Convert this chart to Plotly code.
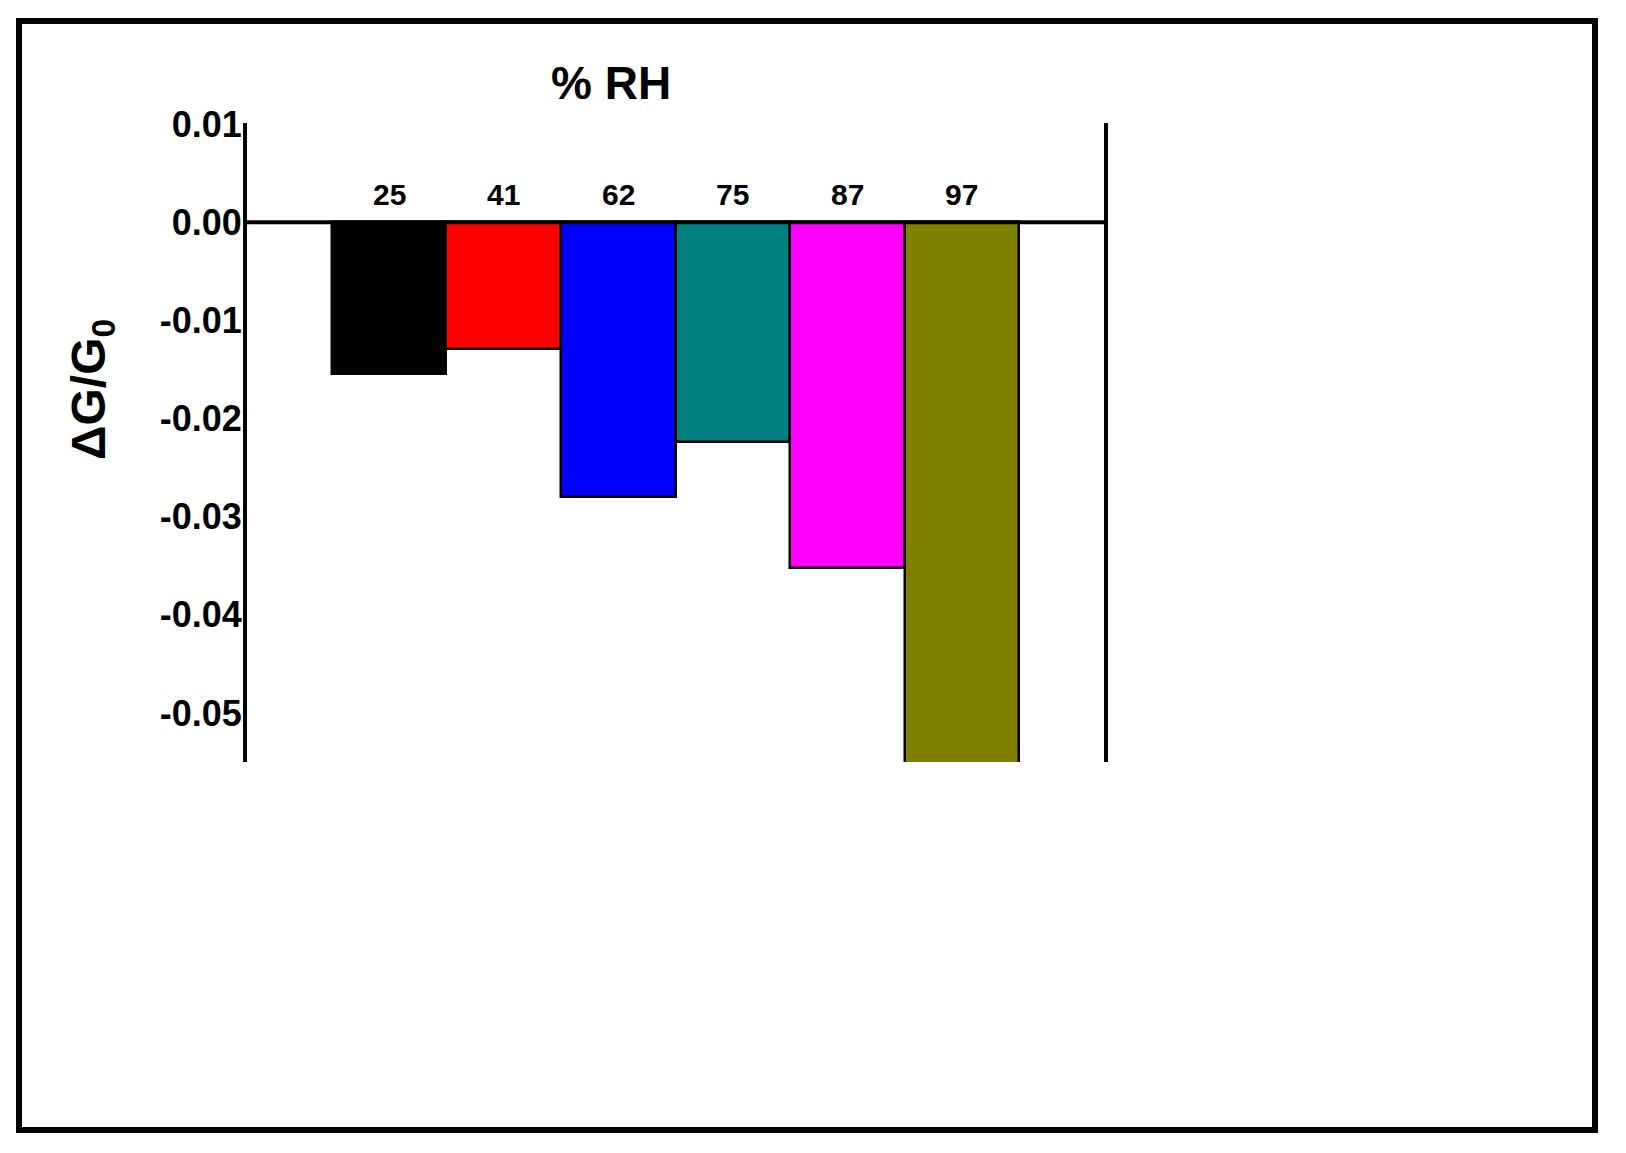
import plotly.graph_objects as go

# ---- data ----
rh_labels = ["25", "41", "62", "75", "87", "97"]
dg_values = [-0.0155, -0.0129, -0.0280, -0.0224, -0.0352, -0.0580]
bar_colors = ["#000000", "#FF0000", "#0000FF", "#008080", "#FF00FF", "#808000"]
y_tickvals = [0.01, 0.00, -0.01, -0.02, -0.03, -0.04, -0.05]
y_ticktext = ["0.01", "0.00", "-0.01", "-0.02", "-0.03", "-0.04", "-0.05"]

W, H = 1626, 1153
L, R, T, B = 247, 1104, 123, 762  # plot area in px
pw, ph = R - L, B - T

def px_x(p):
    return (p - L) / pw

def px_y(p):
    return (B - p) / ph

FONT = "Liberation Sans, Arial, sans-serif"
xpos = list(range(len(rh_labels)))

fig = go.Figure()
fig.add_trace(go.Bar(
    x=xpos, y=dg_values, width=1,
    marker=dict(color=bar_colors, line=dict(color="black", width=2.5)),
    showlegend=False, hoverinfo="skip",
))

# labels above each bar
for xi, lab in zip(xpos, rh_labels):
    fig.add_annotation(x=xi, y=0, xref="x", yref="y", text=lab, showarrow=False,
                       yanchor="middle", yshift=28,
                       font=dict(family=FONT, size=30, color="black", weight="bold"))

# title "% RH"
fig.add_annotation(x=px_x(611), y=px_y(83), xref="paper", yref="paper", text="% RH",
                   showarrow=False, xanchor="center", yanchor="middle",
                   font=dict(family=FONT, size=46, color="black", weight="bold"))

# y-axis title
fig.add_annotation(x=px_x(92), y=px_y(390), xref="paper", yref="paper",
                   text="ΔG/G<sub>0</sub>", textangle=-90, showarrow=False,
                   xanchor="center", yanchor="middle",
                   font=dict(family=FONT, size=48, color="black", weight="bold"))

# zero line across the axis
fig.add_shape(type="line", xref="paper", yref="y", x0=0, x1=1, y0=0, y1=0,
              line=dict(color="black", width=4), layer="above")

# outer frame
fig.add_shape(type="rect", xref="paper", yref="paper",
              x0=px_x(19), x1=px_x(1595), y0=px_y(1130), y1=px_y(21),
              line=dict(color="black", width=6), layer="above")

fig.update_layout(
    width=W, height=H,
    margin=dict(l=L, r=W - R, t=T, b=H - B, pad=0),
    paper_bgcolor="white", plot_bgcolor="white",
    bargap=0,
    xaxis=dict(range=[-1.24, len(rh_labels) - 1 + 1.24], showline=False, showgrid=False,
               zeroline=False, showticklabels=False, ticks=""),
    yaxis=dict(range=[-0.055, 0.0101], showline=True, linewidth=4, linecolor="black",
               mirror=True, showgrid=False, zeroline=False, ticks="",
               tickvals=y_tickvals, ticktext=y_ticktext, ticklabelstandoff=-6,
               tickfont=dict(family=FONT, size=36, color="black", weight="bold")),
)

fig.write_html("out.html", config={"displayModeBar": False},
               post_script="document.body.style.margin='0';document.body.style.overflow='hidden';")
